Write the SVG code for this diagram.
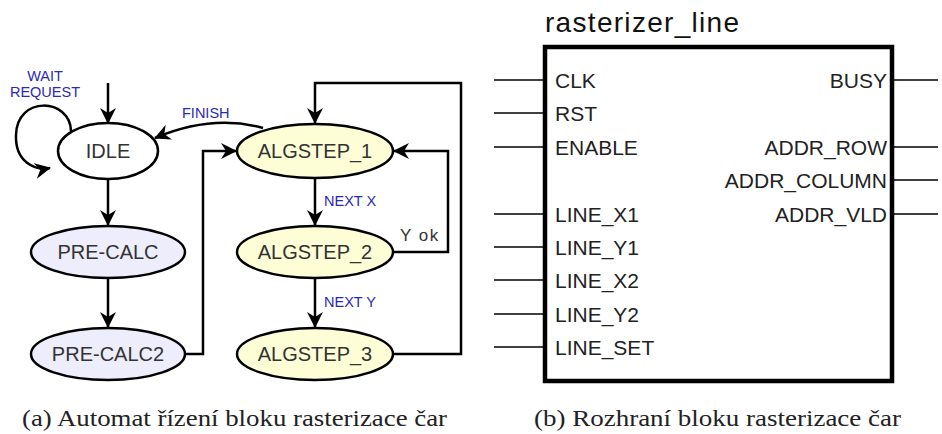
<svg xmlns="http://www.w3.org/2000/svg" width="942" height="434" viewBox="0 0 942 434">
<defs>
<marker id="ah" viewBox="0 0 16 16" refX="15" refY="8" markerWidth="16" markerHeight="16" markerUnits="userSpaceOnUse" orient="auto">
<path d="M0,0 L16,8 L0,16 L5,8 Z" fill="#000"/>
</marker>
</defs>
<style>
.st{stroke:#000;stroke-width:2.5}
.idle{fill:#fff}
.pre{fill:#ededfb}
.alg{fill:#fdfdd6}
.nl{font-family:"Liberation Sans",Arial,sans-serif;font-size:20px;fill:#333;text-anchor:middle}
.bl{font-family:"Liberation Sans",Arial,sans-serif;font-size:14.5px;fill:#2a2ab4}
.cn{fill:none;stroke:#000;stroke-width:2.5}
.pin{stroke:#000;stroke-width:1.4}
.pl{font-family:"Liberation Sans",Arial,sans-serif;font-size:21px;fill:#222}
.cap{font-family:"Liberation Serif","Times New Roman",serif;font-size:24px;fill:#222}
</style>
<rect width="942" height="434" fill="#fff"/>
<g id="connectors">
<line class="cn" x1="108" y1="83" x2="108" y2="123" marker-end="url(#ah)"/>
<path class="cn" d="M71,131 C70,98 17,95 16,135 C15,162 35,171 50,168" marker-end="url(#ah)"/>
<path class="cn" d="M263,128 Q212,114 155,138" marker-end="url(#ah)"/>
<line class="cn" x1="108" y1="179" x2="108" y2="225" marker-end="url(#ah)"/>
<line class="cn" x1="108" y1="278" x2="108" y2="327" marker-end="url(#ah)"/>
<path class="cn" d="M185,354 H203 V151 H236" marker-end="url(#ah)"/>
<line class="cn" x1="315" y1="177" x2="315" y2="225" marker-end="url(#ah)"/>
<line class="cn" x1="315" y1="278" x2="315" y2="327" marker-end="url(#ah)"/>
<path class="cn" d="M393,252 H448 V151 H394" marker-end="url(#ah)"/>
<path class="cn" d="M393,354 H461 V83 H315 V123" marker-end="url(#ah)"/>
<text class="bl" x="45" y="81" text-anchor="middle">WAIT</text>
<text class="bl" x="45" y="97" text-anchor="middle">REQUEST</text>
<text class="bl" x="182" y="118">FINISH</text>
<text class="bl" x="324" y="206">NEXT X</text>
<text class="bl" x="324" y="307">NEXT Y</text>
<text x="400" y="241" style="font-family:'Liberation Sans',Arial,sans-serif;font-size:17px;fill:#333;letter-spacing:1.5px">Y ok</text>
</g>
<g id="idle"><ellipse class="st idle" cx="108" cy="151" rx="50" ry="28"/><text class="nl" x="108" y="158">IDLE</text></g>
<g id="precalc"><ellipse class="st pre" cx="108" cy="252" rx="77" ry="26"/><text class="nl" x="108" y="259">PRE-CALC</text></g>
<g id="precalc2"><ellipse class="st pre" cx="108" cy="354" rx="77" ry="26"/><text class="nl" x="108" y="361">PRE-CALC2</text></g>
<g id="algstep1"><ellipse class="st alg" cx="315" cy="151" rx="78" ry="27"/><text class="nl" x="315" y="158">ALGSTEP_1</text></g>
<g id="algstep2"><ellipse class="st alg" cx="315" cy="252" rx="78" ry="26"/><text class="nl" x="315" y="259">ALGSTEP_2</text></g>
<g id="algstep3"><ellipse class="st alg" cx="315" cy="354" rx="78" ry="26"/><text class="nl" x="315" y="361">ALGSTEP_3</text></g>
<g id="rasterizer_line">
<text x="545" y="32" style="font-family:'Liberation Sans',Arial,sans-serif;font-size:28px;fill:#111;letter-spacing:1.3px">rasterizer_line</text>
<rect x="545" y="47" width="347" height="334" fill="#fff" stroke="#000" stroke-width="4.5"/>
<g>
<line class="pin" x1="494" y1="80" x2="545" y2="80"/>
<line class="pin" x1="494" y1="113" x2="545" y2="113"/>
<line class="pin" x1="494" y1="147" x2="545" y2="147"/>
<line class="pin" x1="494" y1="214" x2="545" y2="214"/>
<line class="pin" x1="494" y1="247" x2="545" y2="247"/>
<line class="pin" x1="494" y1="280" x2="545" y2="280"/>
<line class="pin" x1="494" y1="314" x2="545" y2="314"/>
<line class="pin" x1="494" y1="347" x2="545" y2="347"/>
<line class="pin" x1="892" y1="80" x2="938" y2="80"/>
<line class="pin" x1="892" y1="147" x2="938" y2="147"/>
<line class="pin" x1="892" y1="180" x2="938" y2="180"/>
<line class="pin" x1="892" y1="214" x2="938" y2="214"/>
</g>
<text class="pl" x="555" y="88">CLK</text>
<text class="pl" x="555" y="121">RST</text>
<text class="pl" x="555" y="155">ENABLE</text>
<text class="pl" x="555" y="222">LINE_X1</text>
<text class="pl" x="555" y="255">LINE_Y1</text>
<text class="pl" x="555" y="288">LINE_X2</text>
<text class="pl" x="555" y="322">LINE_Y2</text>
<text class="pl" x="555" y="355">LINE_SET</text>
<text class="pl" x="887" y="88" text-anchor="end">BUSY</text>
<text class="pl" x="887" y="155" text-anchor="end">ADDR_ROW</text>
<text class="pl" x="887" y="188" text-anchor="end">ADDR_COLUMN</text>
<text class="pl" x="887" y="222" text-anchor="end">ADDR_VLD</text>
</g>
<text class="cap" x="22" y="426" textLength="425" lengthAdjust="spacingAndGlyphs">(a) Automat řízení bloku rasterizace čar</text>
<text class="cap" x="534" y="426" textLength="367" lengthAdjust="spacingAndGlyphs">(b) Rozhraní bloku rasterizace čar</text>
</svg>
